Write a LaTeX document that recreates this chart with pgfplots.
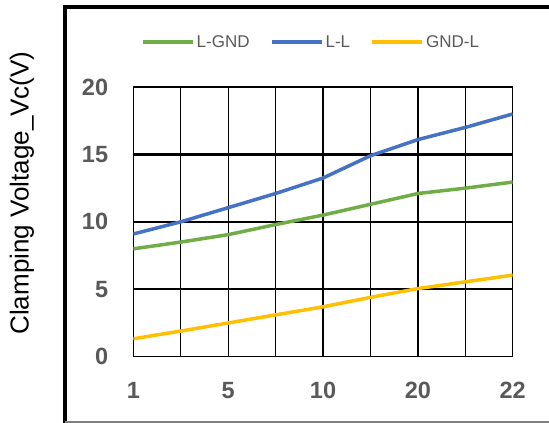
\documentclass[border=0pt]{standalone}
\usepackage{fontspec}
\setmainfont{Liberation Sans}
\usepackage{pgfplots}
\pgfplotsset{compat=1.18}
\definecolor{cgreen}{HTML}{70AD47}
\definecolor{cblue}{HTML}{4472C4}
\definecolor{cyellow}{HTML}{FFC000}
\definecolor{ctext}{HTML}{595959}

\begin{document}
\begin{tikzpicture}
\useasboundingbox (0,0) rectangle (549bp,423bp);
% outer frame
\draw[line width=3.5bp] (65bp,0bp) -- (65bp,416bp) -- (560bp,416bp);
\draw[line width=1.2bp, gray] (65bp,1bp) -- (560bp,1bp);
\node[rotate=90, font=\fontsize{26bp}{30bp}\selectfont] at (22bp,230bp) {Clamping Voltage\_Vc(V)};
\begin{axis}[
    at                = {(133.3bp,66.3bp)},
    anchor            = south west,
    scale only axis,
    width             = 379.4bp,
    height            = 269.7bp,
    xmin = 0, xmax = 8,
    ymin = 0, ymax = 20,
    axis line style   = {draw=none},
    major tick length = 0,
    xtick             = {0,...,8},
    xticklabels       = {1,,5,,10,,20,,22},
    ytick             = {5,10,15,20},
    extra y ticks     = {0},
    extra y tick style = {y grid style={black, line width=1.3bp}},
    xmajorgrids,
    ymajorgrids,
    x grid style      = {black, line width=1.3bp},
    y grid style      = {black, line width=2.2bp},
    /pgf/number format/assume math mode=true,
    yticklabel style  = {font=\fontsize{23.5bp}{27bp}\selectfont\bfseries, text=ctext, anchor=east, inner sep=0pt, xshift=-25bp},
    xticklabel style  = {font=\fontsize{23.5bp}{27bp}\selectfont\bfseries, text=ctext, anchor=north, inner sep=0pt, yshift=-25bp},
    legend style      = {at={(0.468,1.167)}, anchor=center, draw=none, fill=none,
                         legend columns=-1, font=\fontsize{17bp}{20bp}\selectfont, text=ctext,
                         nodes={inner sep=2bp},
                         /tikz/every even column/.append style={column sep=18bp}},
    legend image code/.code={\draw[#1, line width=4bp] (0bp,0bp) -- (50bp,0bp);},
]
\addplot[cgreen, line width=3.5bp, no marks] coordinates {(0,8.0) (1,8.5) (2,9.05) (3,9.8) (4,10.5) (5,11.3) (6,12.1) (7,12.5) (8,12.95)};
\addplot[cblue, line width=3.5bp, no marks] coordinates {(0,9.1) (1,10.0) (2,11.05) (3,12.1) (4,13.25) (5,14.9) (6,16.1) (7,17.0) (8,18.0)};
\addplot[cyellow, line width=3.5bp, no marks] coordinates {(0,1.33) (1,1.9) (2,2.5) (3,3.1) (4,3.7) (5,4.4) (6,5.05) (7,5.55) (8,6.05)};
\legend{L-GND, L-L, GND-L}
\end{axis}
\end{tikzpicture}
\end{document}
